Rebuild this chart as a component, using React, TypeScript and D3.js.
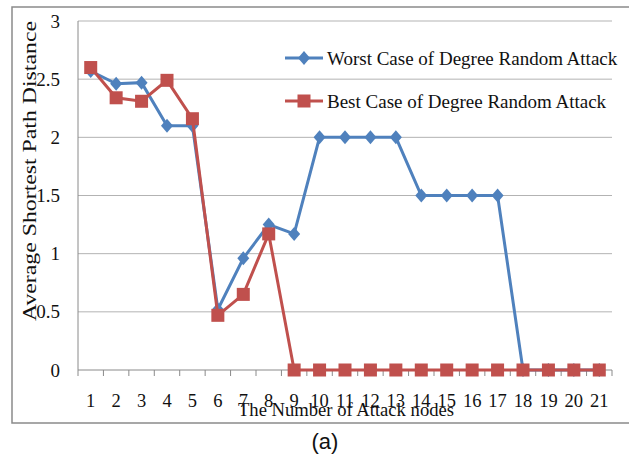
import React from "react";
import * as d3 from "d3";

// attack node counts along x
const nodes = [1, 2, 3, 4, 5, 6, 7, 8, 9, 10, 11, 12, 13, 14, 15, 16, 17, 18, 19, 20, 21];
const worstCase = [2.57, 2.46, 2.47, 2.1, 2.1, 0.52, 0.96, 1.25, 1.17, 2, 2, 2, 2, 1.5, 1.5, 1.5, 1.5, 0, 0, 0, 0];
const bestCase = [2.6, 2.34, 2.31, 2.49, 2.16, 0.47, 0.65, 1.17, 0, 0, 0, 0, 0, 0, 0, 0, 0, 0, 0, 0, 0];
const yTicks = [0, 0.5, 1, 1.5, 2, 2.5, 3];
const seriesNames = ["Worst Case of Degree Random Attack", "Best Case of Degree Random Attack"];

const BLUE = "#4f81bd";
const RED = "#c0504d";
const serif = "'Liberation Serif', 'Times New Roman', serif";

export default function App() {
  const width = 629;
  const height = 459;
  const margin = { top: 21, left: 78, right: 17, bottom: 89 };
  const iwidth = width - margin.left - margin.right;
  const iheight = height - margin.top - margin.bottom;

  const x = d3.scaleBand<number>().domain(nodes).range([0, iwidth]);
  const y = d3.scaleLinear().domain([0, 3]).range([iheight, 0]);
  const cx = (d: number) => (x(d) as number) + x.bandwidth() / 2;

  const line = d3
    .line<number>()
    .x((_, i) => cx(nodes[i]))
    .y(d => y(d));

  const diamond = (px: number, py: number) =>
    `M${px},${py - 7}L${px + 6},${py}L${px},${py + 7}L${px - 6},${py}Z`;

  return (
    <svg
      width={width}
      height={height}
      style={{ position: "absolute", left: 0, top: 0, background: "#fff" }}
    >
      <rect x={12} y={7} width={640} height={416} fill="none" stroke="#8a8a8a" strokeWidth={1.5} />
      <g transform={`translate(${margin.left},${margin.top})`}>
        {yTicks.map(t => (
          <g key={t}>
            {t > 0 && (
              <line x1={0} x2={iwidth} y1={y(t)} y2={y(t)} stroke="#b3b3b3" strokeWidth={1} />
            )}
            <text
              x={-18}
              y={y(t)}
              dy="0.35em"
              textAnchor="end"
              fontFamily={serif}
              fontSize={19}
              fill="#111"
            >
              {t}
            </text>
          </g>
        ))}
        <line x1={0} x2={0} y1={0} y2={iheight} stroke="#8a8a8a" strokeWidth={1} />
        <line x1={0} x2={iwidth} y1={iheight} y2={iheight} stroke="#8a8a8a" strokeWidth={1} />
        {nodes.map(n => (
          <line
            key={"t" + n}
            x1={x(n) as number}
            x2={x(n) as number}
            y1={iheight}
            y2={iheight + 6}
            stroke="#8a8a8a"
          />
        ))}
        <line x1={iwidth} x2={iwidth} y1={iheight} y2={iheight + 6} stroke="#8a8a8a" />
        {nodes.map(n => (
          <text
            key={"l" + n}
            x={cx(n)}
            y={iheight + 37}
            textAnchor="middle"
            fontFamily={serif}
            fontSize={18.5}
            fill="#111"
          >
            {n}
          </text>
        ))}

        <path d={line(worstCase) || ""} fill="none" stroke={BLUE} strokeWidth={3} />
        {worstCase.map((v, i) => (
          <path key={"w" + i} d={diamond(cx(nodes[i]), y(v))} fill={BLUE} />
        ))}
        <path d={line(bestCase) || ""} fill="none" stroke={RED} strokeWidth={3} />
        {bestCase.map((v, i) => (
          <rect
            key={"b" + i}
            x={cx(nodes[i]) - 6.5}
            y={y(v) - 6.5}
            width={13}
            height={13}
            fill={RED}
          />
        ))}
      </g>

      {/* legend */}
      <g transform="translate(285,58)">
        <line x1={0} x2={38} y1={0} y2={0} stroke={BLUE} strokeWidth={3} />
        <path d={diamond(19, 0)} fill={BLUE} />
        <text x={42} y={0} dy="0.35em" fontFamily={serif} fontSize={19} fill="#111">
          {seriesNames[0]}
        </text>
      </g>
      <g transform="translate(285,101)">
        <line x1={0} x2={38} y1={0} y2={0} stroke={RED} strokeWidth={3} />
        <rect x={12.5} y={-6.5} width={13} height={13} fill={RED} />
        <text x={42} y={0} dy="0.35em" fontFamily={serif} fontSize={19} fill="#111">
          {seriesNames[1]}
        </text>
      </g>

      <text
        transform="translate(36,171) rotate(-90)"
        textAnchor="middle"
        fontFamily={serif}
        fontSize={19}
        textLength={300}
        lengthAdjust="spacingAndGlyphs"
        fill="#111"
      >
        Average Shortest Path Distance
      </text>
      <text
        x={346}
        y={416}
        textAnchor="middle"
        fontFamily={serif}
        fontSize={18}
        textLength={216}
        lengthAdjust="spacingAndGlyphs"
        fill="#111"
      >
        The Number of Attack nodes
      </text>
      <text
        x={325}
        y={449}
        textAnchor="middle"
        fontFamily="'Liberation Sans', Arial, sans-serif"
        fontSize={22}
        fill="#111"
      >
        (a)
      </text>
    </svg>
  );
}
